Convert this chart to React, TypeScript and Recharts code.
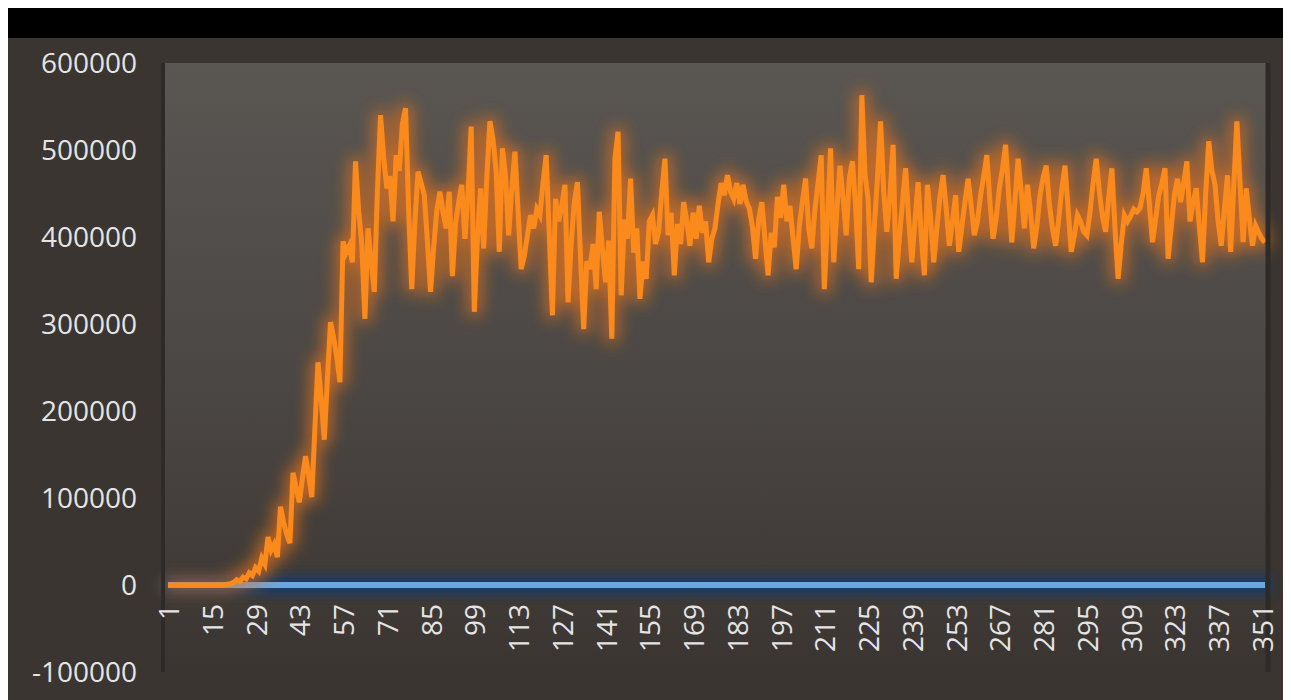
import React from "react";
import { CartesianGrid, Line, LineChart, XAxis, YAxis } from "recharts";

// daily counts, one value per day (day 1 .. 352)
const cases = [
  0, 0, 0, 0, 0, 0, 0, 0, 0, 0, 0, 0, 0, 0, 0, 0,
  0, 0, 0, 1000, 1500, 3000, 6000, 4000, 9000, 7000, 14000, 11000, 20000, 16000, 31000, 24000,
  55000, 40000, 47000, 32000, 90000, 72000, 58000, 48000, 129000, 112000, 95000, 122000, 148000, 126000, 101000, 180000,
  256000, 214000, 167000, 236000, 302000, 284000, 262000, 233000, 395000, 382000, 390000, 371000, 487000, 430000, 392000, 306000,
  410000, 372000, 337000, 452000, 540000, 492000, 456000, 470000, 418000, 494000, 476000, 530000, 548000, 430000, 340000, 418000,
  475000, 462000, 448000, 395000, 337000, 388000, 430000, 452000, 428000, 410000, 452000, 355000, 415000, 440000, 460000, 398000,
  450000, 527000, 314000, 398000, 456000, 387000, 468000, 533000, 512000, 475000, 383000, 502000, 470000, 402000, 455000, 498000,
  430000, 363000, 378000, 402000, 425000, 410000, 432000, 425000, 462000, 494000, 402000, 310000, 444000, 418000, 436000, 460000,
  325000, 392000, 440000, 463000, 376000, 294000, 372000, 363000, 392000, 340000, 429000, 386000, 348000, 396000, 283000, 490000,
  521000, 333000, 420000, 398000, 467000, 382000, 410000, 329000, 372000, 352000, 418000, 425000, 392000, 406000, 452000, 490000,
  402000, 428000, 356000, 415000, 392000, 440000, 418000, 390000, 428000, 398000, 436000, 405000, 418000, 371000, 398000, 410000,
  438000, 462000, 448000, 471000, 452000, 444000, 462000, 438000, 460000, 441000, 433000, 412000, 375000, 420000, 440000, 398000,
  356000, 405000, 388000, 446000, 422000, 460000, 418000, 436000, 398000, 363000, 412000, 441000, 467000, 410000, 387000, 432000,
  462000, 494000, 340000, 420000, 502000, 371000, 430000, 482000, 446000, 402000, 468000, 487000, 436000, 363000, 563000, 472000,
  444000, 348000, 412000, 468000, 533000, 452000, 406000, 448000, 506000, 352000, 398000, 440000, 479000, 420000, 371000, 418000,
  463000, 402000, 356000, 460000, 422000, 371000, 410000, 446000, 471000, 432000, 390000, 418000, 448000, 383000, 412000, 440000,
  467000, 436000, 402000, 418000, 448000, 470000, 494000, 440000, 398000, 422000, 456000, 478000, 506000, 446000, 394000, 442000,
  490000, 452000, 410000, 460000, 428000, 387000, 412000, 448000, 468000, 482000, 438000, 410000, 390000, 420000, 456000, 482000,
  432000, 383000, 402000, 425000, 418000, 406000, 402000, 428000, 462000, 490000, 452000, 424000, 406000, 446000, 479000, 410000,
  352000, 392000, 425000, 418000, 424000, 432000, 429000, 433000, 450000, 479000, 438000, 394000, 420000, 448000, 462000, 479000,
  375000, 412000, 448000, 467000, 440000, 462000, 487000, 418000, 440000, 456000, 412000, 371000, 448000, 510000, 476000, 460000,
  418000, 390000, 432000, 471000, 383000, 458000, 533000, 462000, 394000, 456000, 420000, 390000, 413000, 405000, 398000, 394000,
];

const baseline = [
  0, 0, 0, 0, 0, 0, 0, 0, 0, 0, 0, 0, 0, 0, 0, 0, 0, 0, 0, 0, 0, 0, 0, 0, 0, 0, 0, 0, 0, 0, 0, 0,
  0, 0, 0, 0, 0, 0, 0, 0, 0, 0, 0, 0, 0, 0, 0, 0, 0, 0, 0, 0, 0, 0, 0, 0, 0, 0, 0, 0, 0, 0, 0, 0,
  0, 0, 0, 0, 0, 0, 0, 0, 0, 0, 0, 0, 0, 0, 0, 0, 0, 0, 0, 0, 0, 0, 0, 0, 0, 0, 0, 0, 0, 0, 0, 0,
  0, 0, 0, 0, 0, 0, 0, 0, 0, 0, 0, 0, 0, 0, 0, 0, 0, 0, 0, 0, 0, 0, 0, 0, 0, 0, 0, 0, 0, 0, 0, 0,
  0, 0, 0, 0, 0, 0, 0, 0, 0, 0, 0, 0, 0, 0, 0, 0, 0, 0, 0, 0, 0, 0, 0, 0, 0, 0, 0, 0, 0, 0, 0, 0,
  0, 0, 0, 0, 0, 0, 0, 0, 0, 0, 0, 0, 0, 0, 0, 0, 0, 0, 0, 0, 0, 0, 0, 0, 0, 0, 0, 0, 0, 0, 0, 0,
  0, 0, 0, 0, 0, 0, 0, 0, 0, 0, 0, 0, 0, 0, 0, 0, 0, 0, 0, 0, 0, 0, 0, 0, 0, 0, 0, 0, 0, 0, 0, 0,
  0, 0, 0, 0, 0, 0, 0, 0, 0, 0, 0, 0, 0, 0, 0, 0, 0, 0, 0, 0, 0, 0, 0, 0, 0, 0, 0, 0, 0, 0, 0, 0,
  0, 0, 0, 0, 0, 0, 0, 0, 0, 0, 0, 0, 0, 0, 0, 0, 0, 0, 0, 0, 0, 0, 0, 0, 0, 0, 0, 0, 0, 0, 0, 0,
  0, 0, 0, 0, 0, 0, 0, 0, 0, 0, 0, 0, 0, 0, 0, 0, 0, 0, 0, 0, 0, 0, 0, 0, 0, 0, 0, 0, 0, 0, 0, 0,
  0, 0, 0, 0, 0, 0, 0, 0, 0, 0, 0, 0, 0, 0, 0, 0, 0, 0, 0, 0, 0, 0, 0, 0, 0, 0, 0, 0, 0, 0, 0, 0,
];

const yTicks = [-100000, 0, 100000, 200000, 300000, 400000, 500000, 600000];

const data = cases.map((value, i) => ({ day: String(i + 1), cases: value, baseline: baseline[i] }));

const W = 1283;
const H = 662;
const TOP = 25;
const PLOT_H = 609;
const BOTTOM = H - TOP - PLOT_H;
const ZERO_Y = TOP + (PLOT_H * 6) / 7;
const FONT = "'Open Sans', 'Noto Sans', sans-serif";

function DayTick(props: any) {
  const { x, payload } = props;
  const y = ZERO_Y + 19;
  return (
    <text x={x} y={y} transform={`rotate(-90, ${x}, ${y})`} textAnchor="end" dominantBaseline="central" fill="#e4e4e4" fontSize={28} fontFamily={FONT}>
      {payload.value}
    </text>
  );
}

export default function App() {
  return (
    <div style={{ width: W, height: 692, background: "#3a3531", position: "relative" }}>
      <svg width={0} height={0} style={{ position: "absolute" }}>
        <defs>
          <linearGradient id="plotBg" x1="0" y1="0" x2="0" y2="1">
            <stop offset="0%" stopColor="#5a5652" />
            <stop offset="55%" stopColor="#4a4643" />
            <stop offset="100%" stopColor="#3a3531" />
          </linearGradient>
          <filter id="orangeGlow" filterUnits="userSpaceOnUse" x={0} y={0} width={W} height={H}>
            <feMorphology in="SourceAlpha" operator="dilate" radius="4" result="wide" />
            <feGaussianBlur in="wide" stdDeviation="8" result="soft" />
            <feFlood floodColor="#e8731a" floodOpacity="0.7" />
            <feComposite in2="soft" operator="in" result="glow" />
            <feMerge>
              <feMergeNode in="glow" />
              <feMergeNode in="SourceGraphic" />
            </feMerge>
          </filter>
          <filter id="blueGlow" filterUnits="userSpaceOnUse" x={0} y={0} width={W} height={H}>
            <feMorphology in="SourceAlpha" operator="dilate" radius="7" result="wide" />
            <feGaussianBlur in="wide" stdDeviation="5" result="soft" />
            <feFlood floodColor="#1c3a63" floodOpacity="1" />
            <feComposite in2="soft" operator="in" result="glow" />
            <feMerge>
              <feMergeNode in="glow" />
              <feMergeNode in="SourceGraphic" />
            </feMerge>
          </filter>
        </defs>
      </svg>
      <style>{`
        .glow-orange { filter: url(#orangeGlow); }
        .glow-blue { filter: url(#blueGlow); }
      `}</style>
      <div style={{ height: 30, background: "#000" }} />
      <LineChart width={W} height={H} data={data} margin={{ top: TOP, right: 0, bottom: BOTTOM - 1, left: 0 }}>
        <CartesianGrid horizontal={false} vertical={false} fill="url(#plotBg)" />
        <XAxis
          dataKey="day"
          interval={13}
          height={1}
          axisLine={false}
          tickLine={false}
          padding={{ left: 5, right: 3 }}
          tick={<DayTick />}
        />
        <YAxis
          yAxisId="v"
          width={155}
          domain={[-100000, 600000]}
          ticks={yTicks}
          interval={0}
          axisLine={{ stroke: "#2e2a27", strokeWidth: 4 }}
          tickLine={false}
          tickSize={0}
          tickMargin={26}
          tick={{ fill: "#e4e4e4", fontSize: 28, fontFamily: FONT }}
        />
        <YAxis
          yAxisId="edge"
          orientation="right"
          width={23}
          domain={[0, 1]}
          tick={false}
          tickLine={false}
          axisLine={{ stroke: "#2e2a27", strokeWidth: 5 }}
        />
        <Line
          yAxisId="v"
          className="glow-blue"
          type="linear"
          dataKey="baseline"
          stroke="#6ba7e0"
          strokeWidth={6}
          dot={false}
          activeDot={false}
          isAnimationActive={false}
        />
        <Line
          yAxisId="v"
          className="glow-orange"
          type="linear"
          dataKey="cases"
          stroke="#fb8a1f"
          strokeWidth={5}
          dot={false}
          activeDot={false}
          isAnimationActive={false}
        />
      </LineChart>
    </div>
  );
}
